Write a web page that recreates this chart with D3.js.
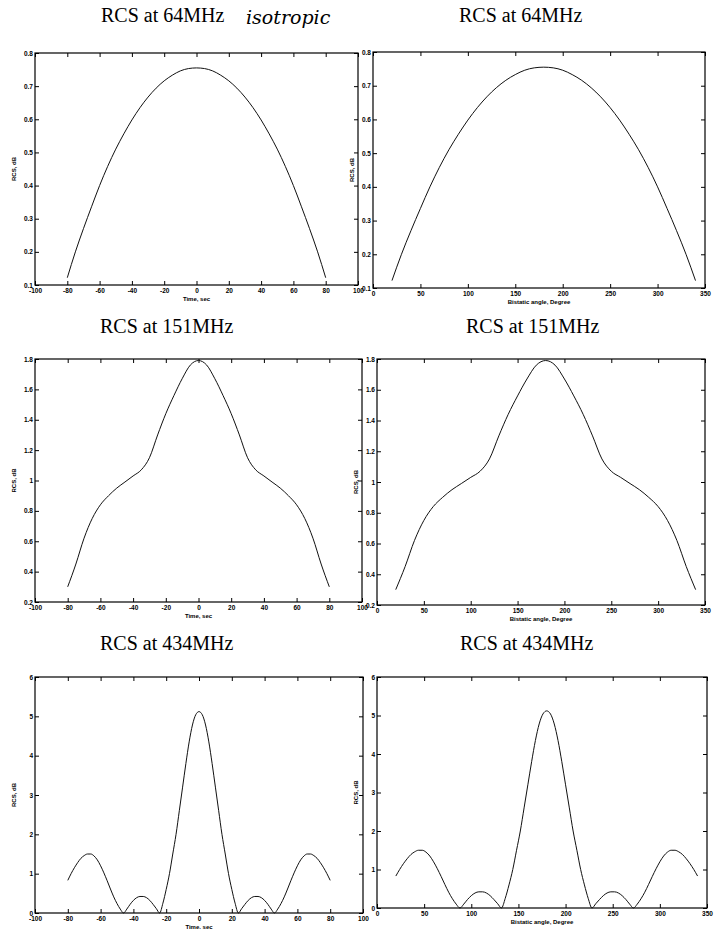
<!DOCTYPE html>
<html>
<head>
<meta charset="utf-8">
<script src="https://cdn.jsdelivr.net/npm/d3@7"></script>
<style>
  body { margin: 0; background: #fff; }
  text { fill: #000; }
</style>
</head>
<body>
<script>
// sample grids
var time5 = [-80, -75, -70, -65, -60, -55, -50, -45, -40, -35, -30, -25, -20, -15, -10, -5, 0,
             5, 10, 15, 20, 25, 30, 35, 40, 45, 50, 55, 60, 65, 70, 75, 80]
var angle10 = [20, 30, 40, 50, 60, 70, 80, 90, 100, 110, 120, 130, 140, 150, 160, 170, 180,
               190, 200, 210, 220, 230, 240, 250, 260, 270, 280, 290, 300, 310, 320, 330, 340]
var time2 = [-80, -78, -76, -74, -72, -70, -68, -66, -64, -62, -60, -58, -56, -54, -52, -50, -48, -46, -44, -42,
             -40, -38, -36, -34, -32, -30, -28, -26, -24, -22, -20, -18, -16, -14, -12, -10, -8, -6, -4, -2, 0,
             2, 4, 6, 8, 10, 12, 14, 16, 18, 20, 22, 24, 26, 28, 30, 32, 34, 36, 38, 40,
             42, 44, 46, 48, 50, 52, 54, 56, 58, 60, 62, 64, 66, 68, 70, 72, 74, 76, 78, 80]
var angle4 = [20, 24, 28, 32, 36, 40, 44, 48, 52, 56, 60, 64, 68, 72, 76, 80, 84, 88, 92, 96,
              100, 104, 108, 112, 116, 120, 124, 128, 132, 136, 140, 144, 148, 152, 156, 160, 164, 168, 172, 176, 180,
              184, 188, 192, 196, 200, 204, 208, 212, 216, 220, 224, 228, 232, 236, 240, 244, 248, 252, 256, 260,
              264, 268, 272, 276, 280, 284, 288, 292, 296, 300, 304, 308, 312, 316, 320, 324, 328, 332, 336, 340]

// RCS values (dB)
var rcs64 = [0.122, 0.20, 0.27, 0.336, 0.40, 0.458, 0.51, 0.556, 0.598, 0.635, 0.667, 0.694, 0.716, 0.733, 0.746, 0.753, 0.755,
             0.753, 0.746, 0.733, 0.716, 0.694, 0.667, 0.635, 0.598, 0.556, 0.51, 0.458, 0.40, 0.336, 0.27, 0.20, 0.122]
var rcs151 = [0.30, 0.45, 0.62, 0.75, 0.84, 0.90, 0.95, 0.99, 1.03, 1.07, 1.15, 1.30, 1.44, 1.56, 1.67, 1.76, 1.79,
              1.76, 1.67, 1.56, 1.44, 1.30, 1.15, 1.07, 1.03, 0.99, 0.95, 0.90, 0.84, 0.75, 0.62, 0.45, 0.30]
var rcs434 = [0.83, 1.00, 1.15, 1.28, 1.39, 1.46, 1.50, 1.50, 1.45, 1.35, 1.20, 1.02, 0.82, 0.61, 0.41, 0.24, 0.10, 0.00, 0.10, 0.22,
              0.32, 0.39, 0.42, 0.42, 0.39, 0.32, 0.22, 0.11, 0.00, 0.25, 0.60, 1.00, 1.50, 2.00, 2.60, 3.20, 3.80, 4.35, 4.78, 5.04, 5.12,
              5.04, 4.78, 4.35, 3.80, 3.20, 2.60, 2.00, 1.50, 1.00, 0.60, 0.25, 0.00, 0.11, 0.22, 0.32, 0.39, 0.42, 0.42, 0.39, 0.32,
              0.22, 0.10, 0.00, 0.10, 0.24, 0.41, 0.61, 0.82, 1.02, 1.20, 1.35, 1.45, 1.50, 1.50, 1.46, 1.39, 1.28, 1.15, 1.00, 0.83]

// tick labels
var timeTicks = [-100, -80, -60, -40, -20, 0, 20, 40, 60, 80, 100]
var angleTicks = [0, 50, 100, 150, 200, 250, 300, 350]
var ticks64 = [0.1, 0.2, 0.3, 0.4, 0.5, 0.6, 0.7, 0.8]
var ticks151 = [0.2, 0.4, 0.6, 0.8, 1, 1.2, 1.4, 1.6, 1.8]
var ticks434 = [0, 1, 2, 3, 4, 5, 6]

var titles = ['RCS at 64MHz', 'RCS at 151MHz', 'RCS at 434MHz']

var width = 727,
    height = 929
var svg = d3.select('body').append('svg')
    .attr('width', width)
    .attr('height', height)

function panel(box, xTicks, yTicks, xs, ys, xLabel) {
    var x = d3.scaleLinear()
        .domain([xTicks[0], xTicks[xTicks.length - 1]])
        .range([box.x0, box.x1])
    var y = d3.scaleLinear()
        .domain([yTicks[0], yTicks[yTicks.length - 1]])
        .range([box.y1, box.y0])

    var g = svg.append('g')
        .style('font-family', 'Arial, "Liberation Sans", sans-serif')
        .style('font-weight', 'bold')

    g.append('rect')
        .attr('x', box.x0).attr('y', box.y0)
        .attr('width', box.x1 - box.x0).attr('height', box.y1 - box.y0)
        .attr('fill', 'none').attr('stroke', '#000').attr('stroke-width', 1.2)

    var fmt = d => String(d)
    var bottom = g.append('g')
        .attr('transform', 'translate(0,' + box.y1 + ')')
        .call(d3.axisBottom(x).tickValues(xTicks).tickFormat(fmt).tickSizeInner(-4).tickSizeOuter(0).tickPadding(3))
    var left = g.append('g')
        .attr('transform', 'translate(' + box.x0 + ',0)')
        .call(d3.axisLeft(y).tickValues(yTicks).tickFormat(fmt).tickSizeInner(-4).tickSizeOuter(0).tickPadding(2))
    g.append('g')
        .attr('transform', 'translate(0,' + box.y0 + ')')
        .call(d3.axisTop(x).tickValues(xTicks).tickFormat('').tickSizeInner(-4).tickSizeOuter(0))
    g.append('g')
        .attr('transform', 'translate(' + box.x1 + ',0)')
        .call(d3.axisRight(y).tickValues(yTicks).tickFormat('').tickSizeInner(-4).tickSizeOuter(0))

    g.selectAll('.domain').remove()
    g.selectAll('.tick line').attr('stroke', '#000')
    bottom.selectAll('text').style('font-size', '6.5px').style('font-family', 'inherit')
    left.selectAll('text').style('font-size', '6.5px').style('font-family', 'inherit')

    g.append('text')
        .attr('x', (box.x0 + box.x1) / 2)
        .attr('y', box.y1 + 16)
        .attr('text-anchor', 'middle')
        .style('font-size', '6px')
        .text(xLabel)
    g.append('text')
        .attr('transform', 'translate(' + (box.x0 - 19) + ',' + ((box.y0 + box.y1) / 2) + ') rotate(-90)')
        .attr('text-anchor', 'middle')
        .style('font-size', '6px')
        .text('RCS, dB')

    var line = d3.line()
        .x((d, i) => x(xs[i]))
        .y(d => y(d))
        .curve(d3.curveMonotoneX)
    g.append('path')
        .datum(ys)
        .attr('d', line)
        .attr('fill', 'none')
        .attr('stroke', '#111')
        .attr('stroke-width', 1)
}

panel({x0: 35, x1: 358, y0: 53, y1: 285}, timeTicks, ticks64, time5, rcs64, 'Time, sec')
panel({x0: 373, x1: 705, y0: 52, y1: 288}, angleTicks, ticks64, angle10, rcs64, 'Bistatic angle, Degree')
panel({x0: 35, x1: 362, y0: 359, y1: 602}, timeTicks, ticks151, time5, rcs151, 'Time, sec')
panel({x0: 377, x1: 705, y0: 359, y1: 605}, angleTicks, ticks151, angle10, rcs151, 'Bistatic angle, Degree')
panel({x0: 35, x1: 363, y0: 677, y1: 913}, timeTicks, ticks434, time2, rcs434, 'Time, sec')
panel({x0: 377, x1: 707, y0: 677, y1: 908}, angleTicks, ticks434, angle4, rcs434, 'Bistatic angle, Degree')

// titles, left and right column
var titleY = [22, 333, 650]
var titleX = [[101, 459], [100, 466], [100, 460]]
titles.forEach((t, i) => {
    titleX[i].forEach(xs => {
        svg.append('text')
            .attr('x', xs)
            .attr('y', titleY[i])
            .style('font-family', '"Liberation Serif", "Times New Roman", serif')
            .style('font-size', '20px')
            .text(t)
    })
})

// handwritten note next to the first title
svg.append('text')
    .attr('x', 246)
    .attr('y', 24)
    .style('font-family', '"DejaVu Serif", serif')
    .style('font-style', 'italic')
    .style('font-size', '19px')
    .text('isotropic')
</script>
</body>
</html>
